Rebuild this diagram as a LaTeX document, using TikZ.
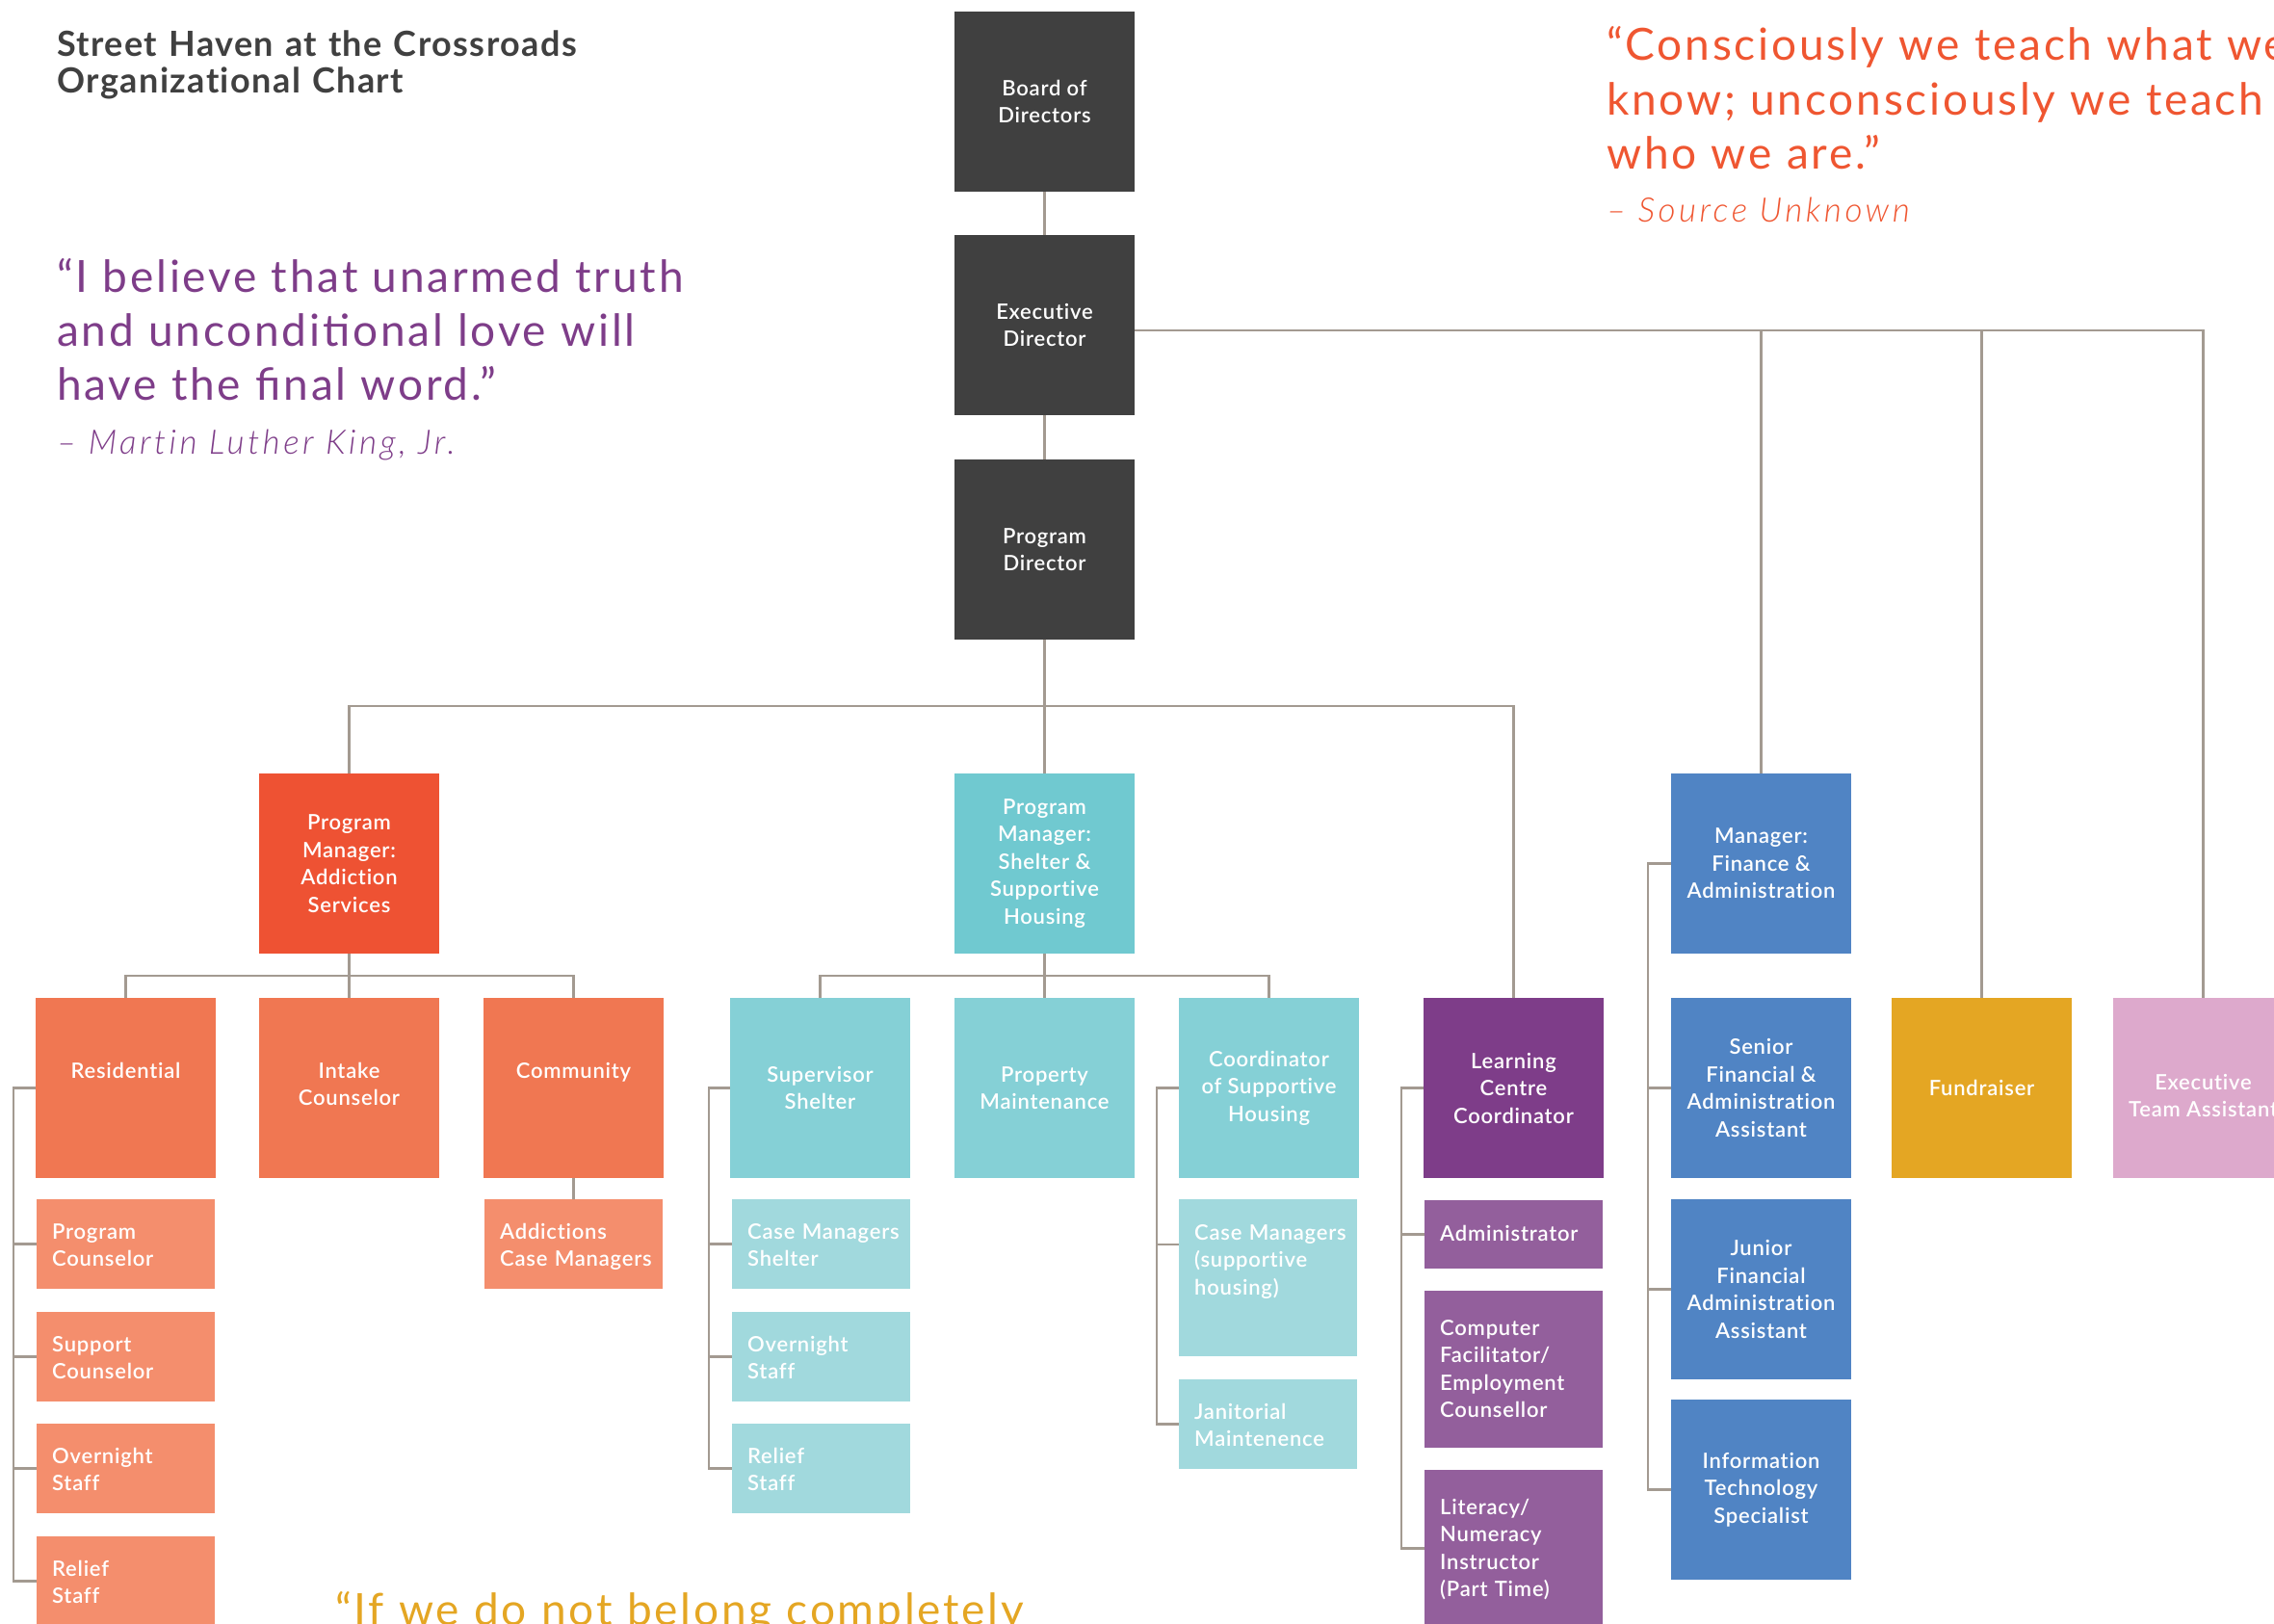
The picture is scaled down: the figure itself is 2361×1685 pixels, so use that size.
\documentclass[tikz,border=0pt]{standalone}
\usepackage{fontspec}
\setmainfont{Lato}
\newfontfamily\boxfam{Lato Semibold}[LetterSpace=3.5, Ligatures=NoCommon]
\newfontfamily\quotefam{Lato}[LetterSpace=6]
\newfontfamily\srcfam{Lato Light}[LetterSpace=10, Ligatures=NoCommon]
\newfontfamily\titlefam{Lato}[LetterSpace=4, Ligatures=NoCommon]
\newcommand\boxtext{\boxfam\fontsize{22bp}{28.5bp}\selectfont}
\newcommand\quotetext{\quotefam\fontsize{46bp}{56bp}\selectfont}
\newcommand\sourcetext{\srcfam\itshape\fontsize{35bp}{40bp}\selectfont}
\newcommand\titletext{\titlefam\bfseries\fontsize{36bp}{37.5bp}\selectfont}

\definecolor{inkdark}{HTML}{404040}
\definecolor{linegray}{HTML}{A39A91}
\definecolor{addictA}{HTML}{EE5233}
\definecolor{addictB}{HTML}{F07752}
\definecolor{addictC}{HTML}{F48E6D}
\definecolor{shelterA}{HTML}{70C9D0}
\definecolor{shelterB}{HTML}{85D0D6}
\definecolor{shelterC}{HTML}{A1D9DD}
\definecolor{learnA}{HTML}{7E3D89}
\definecolor{learnB}{HTML}{935F9C}
\definecolor{finance}{HTML}{5084C4}
\definecolor{fundgold}{HTML}{E4A623}
\definecolor{assistpink}{HTML}{DDA9CC}
\definecolor{quotepurple}{HTML}{7E3D89}
\definecolor{quoteorange}{HTML}{EF5631}
\definecolor{quotegold}{HTML}{E4A623}

\begin{document}
\begin{tikzpicture}[x=1bp,y=-1bp,
  orgbox/.style={anchor=north west, inner sep=0pt, outer sep=0pt,
    minimum width=187bp, minimum height=187bp, text=white, font=\boxtext, align=center},
  staffbox/.style={orgbox, minimum width=185bp, minimum height=93bp},
  toptext/.style={anchor=base, inner sep=0pt, text width=180bp, align=center,
    text=white, font=\boxtext},
  lefttext/.style={anchor=base west, inner sep=0pt, text width=175bp, align=left,
    text=white, font=\boxtext},
  link/.style={draw=linegray, line width=2.8bp},
  quoteblock/.style={anchor=base west, inner sep=0pt, text width=900bp, align=left,
    font=\quotetext},
  srcline/.style={anchor=base west, inner sep=0pt, font=\sourcetext},
]
\useasboundingbox (0,0) rectangle (2361,1685);
\clip (0,0) rectangle (2361,1685);

% ---------- heading and quotations ----------
\node[anchor=base west, inner sep=0pt, text width=900bp, align=left, font=\titletext,
  text=inkdark] (title) at (59,59) {Street Haven at the Crossroads\\Organizational Chart};

\node[quoteblock, text=quotepurple] (mlk) at (59,303)
  {“I believe that unarmed truth\\and unconditional love will\\have the final word.”};
\node[srcline, text=quotepurple] (mlk-src) at (59,471) {– Martin Luther King, Jr.};

\node[quoteblock, text=quoteorange] (teach) at (1668,63)
  {“Consciously we teach what we\\know; unconsciously we teach\\who we are.”};
\node[srcline, text=quoteorange] (teach-src) at (1668,230) {– Source Unknown};

\node[quoteblock, text=quotegold] (belong) at (348,1687) {“If we do not belong completely};

% ---------- governance ----------
\node[orgbox, fill=inkdark] (board)   at (991,12)  {Board of\\Directors};
\node[orgbox, fill=inkdark] (exec)    at (991,244) {Executive\\Director};
\node[orgbox, fill=inkdark] (progdir) at (991,477) {Program\\Director};

% ---------- managers ----------
\node[orgbox, fill=addictA]  (pmA)  at (269,803)  {Program\\Manager:\\Addiction\\Services};
\node[orgbox, fill=shelterA] (pmS)  at (991,803)  {Program\\Manager:\\Shelter \&\\Supportive\\Housing};
\node[orgbox, fill=finance]  (mgrF) at (1735,803) {Manager:\\Finance \&\\Administration};

% ---------- second tier ----------
\node[orgbox, fill=addictB] (res)    at (37,1036)  {};
\node[orgbox, fill=addictB] (intake) at (269,1036) {};
\node[orgbox, fill=addictB] (comm)   at (502,1036) {};
\node[toptext] (res-t)    at ([yshift=-83bp]res.north)    {Residential};
\node[toptext] (intake-t) at ([yshift=-83bp]intake.north) {Intake\\Counselor};
\node[toptext] (comm-t)   at ([yshift=-83bp]comm.north)   {Community};

\node[orgbox, fill=shelterB] (sup)   at (758,1036)  {Supervisor\\Shelter};
\node[orgbox, fill=shelterB] (prop)  at (991,1036)  {Property\\Maintenance};
\node[orgbox, fill=shelterB] (coord) at (1224,1036) {Coordinator\\of Supportive\\Housing};
\node[orgbox, fill=learnA]   (lc)    at (1478,1036) {Learning\\Centre\\Coordinator};
\node[orgbox, fill=finance]  (sfa)   at (1735,1036) {Senior\\Financial \&\\Administration\\Assistant};
\node[orgbox, fill=fundgold] (fund)  at (1964,1036) {Fundraiser};
\node[orgbox, fill=assistpink] (eta) at (2194,1036) {};
\node[inner sep=0pt, align=center, text=white, font=\boxtext] (eta-t)
  at ([yshift=-8bp]eta.center) {Executive\\Team Assistant};

% ---------- staff ----------
\node[staffbox, fill=addictC] (pc)  at (38,1245) {};
\node[staffbox, fill=addictC] (sc)  at (38,1362) {};
\node[staffbox, fill=addictC] (os)  at (38,1478) {};
\node[staffbox, fill=addictC] (rs)  at (38,1595) {};
\node[staffbox, fill=addictC] (acm) at (503,1245) {};
\node[lefttext] (pc-t)  at ([xshift=16bp,yshift=-41bp]pc.north west)  {Program\\Counselor};
\node[lefttext] (sc-t)  at ([xshift=16bp,yshift=-41bp]sc.north west)  {Support\\Counselor};
\node[lefttext] (os-t)  at ([xshift=16bp,yshift=-41bp]os.north west)  {Overnight\\Staff};
\node[lefttext] (rs-t)  at ([xshift=16bp,yshift=-41bp]rs.north west)  {Relief\\Staff};
\node[lefttext] (acm-t) at ([xshift=16bp,yshift=-41bp]acm.north west) {Addictions\\Case Managers};

\node[staffbox, fill=shelterC] (cms) at (760,1245) {};
\node[staffbox, fill=shelterC] (os2) at (760,1362) {};
\node[staffbox, fill=shelterC] (rs2) at (760,1478) {};
\node[staffbox, fill=shelterC, minimum height=163bp] (cmsh) at (1224,1245) {};
\node[staffbox, fill=shelterC] (jan) at (1224,1432) {};
\node[lefttext] (cms-t)  at ([xshift=16bp,yshift=-41bp]cms.north west)  {Case Managers\\Shelter};
\node[lefttext] (os2-t)  at ([xshift=16bp,yshift=-41bp]os2.north west)  {Overnight\\Staff};
\node[lefttext] (rs2-t)  at ([xshift=16bp,yshift=-41bp]rs2.north west)  {Relief\\Staff};
\node[lefttext] (cmsh-t) at ([xshift=16bp,yshift=-42bp]cmsh.north west) {Case Managers\\(supportive\\housing)};
\node[lefttext] (jan-t)  at ([xshift=16bp,yshift=-41bp]jan.north west)  {Janitorial\\Maintenence};

\node[staffbox, fill=learnB, minimum height=71bp]  (adm) at (1479,1246) {};
\node[staffbox, fill=learnB, minimum height=163bp] (cfe) at (1479,1340) {};
\node[staffbox, fill=learnB, minimum height=163bp] (lit) at (1479,1526) {};
\node[lefttext] (adm-t) at ([xshift=16bp,yshift=-42bp]adm.north west) {Administrator};
\node[lefttext] (cfe-t) at ([xshift=16bp,yshift=-46bp]cfe.north west) {Computer\\Facilitator/\\Employment\\Counsellor};
\node[lefttext] (lit-t) at ([xshift=16bp,yshift=-46bp]lit.north west) {Literacy/\\Numeracy\\Instructor\\(Part Time)};

\node[orgbox, fill=finance] (jfa) at (1735,1245) {Junior\\Financial\\Administration\\Assistant};
\node[orgbox, fill=finance] (its) at (1735,1453) {Information\\Technology\\Specialist};

% ---------- reporting lines ----------
\coordinate (eY) at (0,343);
\coordinate (pY) at (0,733);
\coordinate (aY) at (0,1013);

\draw[link] (board.south) -- (exec.north);
\draw[link] (exec.south) -- (progdir.north);
\draw[link] (exec.east |- eY) -| (eta.north);
\draw[link] (mgrF.north) -- (mgrF.north |- eY);
\draw[link] (fund.north) -- (fund.north |- eY);

\draw[link] (progdir.south) -- (pmS.north);
\draw[link] (pmA.north) |- (lc.north |- pY) -- (lc.north);

\draw[link] (pmA.south) -- (intake.north);
\draw[link] (res.north) |- (comm.north |- aY) -- (comm.north);
\draw[link] (comm.south) -- (acm.north);

\draw[link] (pmS.south) -- (prop.north);
\draw[link] (sup.north) |- (coord.north |- aY) -- (coord.north);

% side spines
\coordinate (sA) at (14,0);
\coordinate (sD) at (736,0);
\coordinate (sF) at (1201,0);
\coordinate (sG) at (1455,0);
\coordinate (sH) at (1711,0);

\draw[link] (res.west) -| (sA |- rs.west) -- (rs.west);
\foreach \n in {pc,sc,os} \draw[link] (sA |- \n.west) -- (\n.west);

\draw[link] (sup.west) -| (sD |- rs2.west) -- (rs2.west);
\foreach \n in {cms,os2} \draw[link] (sD |- \n.west) -- (\n.west);

\coordinate (cmshS) at ([yshift=-47bp]cmsh.north west);
\draw[link] (coord.west) -| (sF |- jan.west) -- (jan.west);
\draw[link] (sF |- cmshS) -- (cmshS);

\draw[link] (lc.west) -| (sG |- lit.west) -- (lit.west);
\draw[link] (sG |- adm.west) -- (adm.west);

\draw[link] (mgrF.west) -| (sH |- its.west) -- (its.west);
\foreach \n in {sfa,jfa} \draw[link] (sH |- \n.west) -- (\n.west);
\end{tikzpicture}
\end{document}
